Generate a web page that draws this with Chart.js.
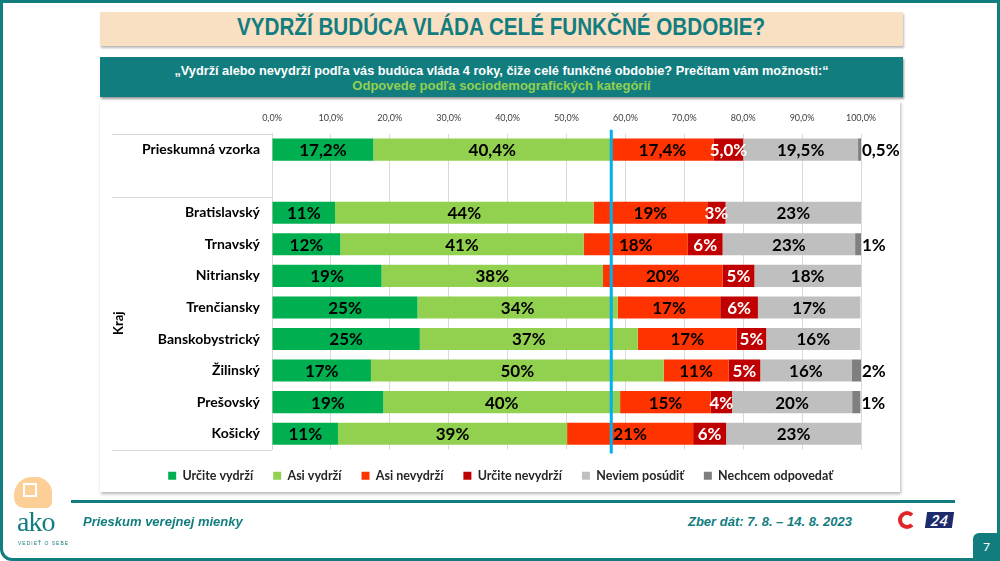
<!DOCTYPE html>
<html>
<head>
<meta charset="utf-8">
<script src="https://cdn.jsdelivr.net/npm/chart.js@4.4.1/dist/chart.umd.min.js"></script>
<style>
  html, body { margin: 0; padding: 0; }
  body { width: 1000px; height: 561px; position: relative; overflow: hidden; background: #fff; font-family: Lato, sans-serif; }
  .frame { position: absolute; left: 0; top: 0; width: 994px; height: 555px; border: 3px solid #127d7f; border-radius: 0 0 0 12px; }
  .title { position: absolute; left: 100px; top: 12px; width: 803px; height: 34px; background: #f9e0c2; box-shadow: 1px 2px 2px #b9b9b9;
    color: #127d7f; text-align: center; line-height: 34px; }
  .title span { display: inline-block; font: bold 24px 'Liberation Sans', Arial, sans-serif; transform: scaleX(0.86); white-space: nowrap; }
  .sub { position: absolute; left: 100px; top: 57px; width: 803px; height: 40px; background: #127d7f; box-shadow: 1px 2px 2px #9a9a9a;
    text-align: center; font: bold 13px 'Liberation Sans', Arial, sans-serif; line-height: 15px; padding-top: 6px; box-sizing: border-box; }
  .sub div { white-space: nowrap; }
  .sub .q { color: #fff; transform: scaleX(0.98); }
  .sub .g { color: #92d050; }
  .box { position: absolute; left: 100px; top: 101px; width: 800px; height: 391px; background: #fff; box-shadow: 1px 2px 3px #b5b5b5; }
  #wrap { position: absolute; left: 100px; top: 101px; width: 800px; height: 391px; }
  .rule { position: absolute; left: 71px; top: 500px; width: 884px; height: 3px; background: #127d7f; }
  .foot { position: absolute; top: 514px; color: #127d7f; font: italic bold 13px 'Liberation Sans', Arial, sans-serif; }
  .head { position: absolute; left: 14px; top: 477px; width: 38px; height: 31px; background: #fbcf96; border-radius: 18px 16px 6px 10px; }
  .head i { position: absolute; left: 9px; top: 6px; width: 10px; height: 10px; border: 2px solid #fff; }
  .ako { position: absolute; left: 17px; top: 506px; color: #127d7f; font: 28px 'Liberation Serif', serif; letter-spacing: -1px; }
  .ved { position: absolute; left: 18px; top: 540px; color: #127d7f; font: 5px sans-serif; letter-spacing: 1px; }
  .spin { position: absolute; left: 898px; top: 511px; width: 10px; height: 10px; border: 4px solid #e2232a; border-radius: 50%; border-right-color: transparent; }
  .tv { position: absolute; left: 926px; top: 512px; width: 27px; height: 16px; background: #1d2a6b; color: #fff; font: italic bold 15px Lato, sans-serif; text-align: center; line-height: 16px; transform: skewX(-8deg); }
  .pg { position: absolute; left: 973px; top: 533px; width: 27px; height: 28px; background: #127d7f; border-radius: 6px 0 0 0; color: #fff; font: 12px Lato, sans-serif; text-align: center; line-height: 28px; }
</style>
</head>
<body>
<div class="frame"></div>
<div class="title"><span>VYDRŽÍ BUDÚCA VLÁDA CELÉ FUNKČNÉ OBDOBIE?</span></div>
<div class="sub"><div class="q">„Vydrží alebo nevydrží podľa vás budúca vláda 4 roky, čiže celé funkčné obdobie? Prečítam vám možnosti:“</div><div class="g">Odpovede podľa sociodemografických kategórií</div></div>
<div class="box"></div>
<div id="wrap"><canvas id="chart"></canvas></div>
<div class="rule"></div>
<div class="head"><i></i></div>
<div class="ako">ako</div>
<div class="ved">VEDIEŤ O SEBE</div>
<div class="foot" style="left:83px">Prieskum verejnej mienky</div>
<div class="foot" style="right:148px">Zber dát: 7. 8. – 14. 8. 2023</div>
<div class="spin"></div>
<div class="tv">24</div>
<div class="pg">7</div>
<script>
const categories = ['Prieskumná vzorka', '', 'Bratislavský', 'Trnavský', 'Nitriansky', 'Trenčiansky', 'Banskobystrický', 'Žilinský', 'Prešovský', 'Košický'];
const seriesNames = ['Určite vydrží', 'Asi vydrží', 'Asi nevydrží', 'Určite nevydrží', 'Neviem posúdiť', 'Nechcem odpovedať'];
const urciteVydrzi   = [17.2, null, 10.7, 11.6, 18.6, 24.7, 25.1, 16.8, 18.9, 11.2];
const asiVydrzi      = [40.4, null, 43.9, 41.3, 37.6, 34.0, 37.0, 49.7, 40.2, 38.9];
const asiNevydrzi    = [17.4, null, 19.3, 17.7, 20.3, 17.4, 16.8, 11.0, 15.4, 21.4];
const urciteNevydrzi = [5.0, null, 3.1, 5.9, 5.4, 6.4, 5.0, 5.4, 3.6, 5.6];
const neviem         = [19.5, null, 23.0, 22.5, 18.1, 17.4, 16.0, 15.5, 20.4, 22.9];
const nechcem        = [0.5, null, 0, 1.0, 0, 0, 0, 1.6, 1.4, 0];
const colors = ['#00b050', '#92d050', '#ff3300', '#c00000', '#bfbfbf', '#7f7f7f'];

Chart.defaults.font.family = 'Lato, sans-serif';

function fmt(v, i) {
  if (i === 0) return v.toFixed(1).replace('.', ',') + '%';
  return Math.round(v) + '%';
}

// data labels, the blue divider and the category group lines
const decor = {
  id: 'decor',
  afterDatasetsDraw(chart) {
    const ctx = chart.ctx;
    const x = chart.scales.x, y = chart.scales.y;
    const a = chart.chartArea;
    ctx.save();
    ctx.font = 'bold 17px Lato, sans-serif';
    ctx.textBaseline = 'middle';
    chart.data.datasets.forEach((ds, di) => {
      chart.getDatasetMeta(di).data.forEach((bar, i) => {
        const v = ds.data[i];
        if (!v) return;
        if (di === 5) {
          ctx.textAlign = 'left';
          ctx.fillStyle = '#000';
          ctx.fillText(fmt(v, i), bar.x + 1, bar.y + 1);
          return;
        }
        ctx.textAlign = 'center';
        ctx.fillStyle = di === 3 ? '#fff' : '#000';
        ctx.fillText(fmt(v, i), (bar.base + bar.x) / 2, bar.y + 1);
      });
    });
    // group separators on the category axis
    ctx.strokeStyle = '#d9d9d9';
    ctx.lineWidth = 1;
    const mid = (y.getPixelForValue(1) + y.getPixelForValue(2)) / 2;
    [a.top, mid, a.bottom].forEach(py => {
      ctx.beginPath();
      ctx.moveTo(12, Math.round(py) + 0.5);
      ctx.lineTo(a.left, Math.round(py) + 0.5);
      ctx.stroke();
    });
    ctx.fillStyle = '#000';
    ctx.font = 'bold 13px Lato, sans-serif';
    ctx.textAlign = 'center';
    ctx.translate(19, (mid + a.bottom) / 2);
    ctx.rotate(-Math.PI / 2);
    ctx.fillText('Kraj', 0, 0);
    ctx.restore();
    // blue line at the "vydrží" total of the whole sample
    const px = x.getPixelForValue(urciteVydrzi[0] + asiVydrzi[0]);
    ctx.save();
    ctx.strokeStyle = '#00b0f0';
    ctx.lineWidth = 3;
    ctx.beginPath();
    ctx.moveTo(px, a.top - 4);
    ctx.lineTo(px, a.bottom + 4);
    ctx.stroke();
    ctx.restore();
  }
};

const values = [urciteVydrzi, asiVydrzi, asiNevydrzi, urciteNevydrzi, neviem, nechcem];

new Chart(document.getElementById('chart'), {
  type: 'bar',
  data: {
    labels: categories,
    datasets: values.map((d, i) => ({
      label: seriesNames[i],
      data: d,
      backgroundColor: colors[i],
      borderWidth: 0,
      barPercentage: 0.7,
      categoryPercentage: 1
    }))
  },
  options: {
    indexAxis: 'y',
    responsive: true,
    maintainAspectRatio: false,
    animation: false,
    layout: { padding: { top: 2, right: 39, bottom: 0, left: 40 } },
    plugins: {
      tooltip: { enabled: false },
      legend: {
        position: 'bottom',
        labels: {
          boxWidth: 8, boxHeight: 8, padding: 20,
          color: '#262626',
          font: { size: 12.5, weight: 'bold' }
        }
      }
    },
    scales: {
      x: {
        position: 'top',
        stacked: true,
        min: 0, max: 100,
        ticks: { stepSize: 10, padding: 10, color: '#404040', font: { size: 9 },
          callback: v => v.toFixed(1).replace('.', ',') + '%' },
        grid: { color: '#d9d9d9', drawTicks: false },
        border: { display: false }
      },
      y: {
        stacked: true,
        afterFit: s => { s.width = 132; },
        ticks: { color: '#000', padding: 12, font: { size: 14, weight: 'bold' } },
        grid: { display: false, drawTicks: false },
        border: { display: true, color: '#d9d9d9' }
      }
    }
  },
  plugins: [decor]
});
</script>
</body>
</html>
